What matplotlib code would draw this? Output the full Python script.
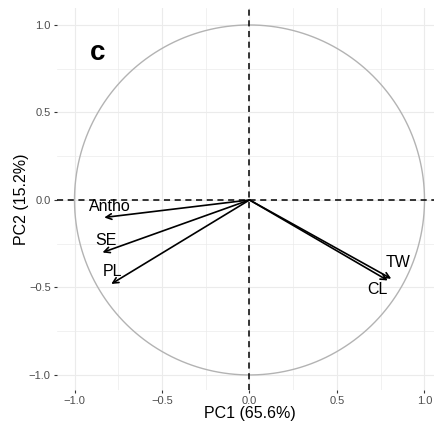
import numpy as np
import matplotlib
matplotlib.use("Agg")
import matplotlib.pyplot as plt

plt.rcParams['font.family'] = ['Liberation Sans', 'DejaVu Sans']

# loadings (PC1, PC2)
variables = ["Antho", "SE", "PL", "TW", "CL"]
pc1 = [-0.83, -0.84, -0.79, 0.81, 0.79]
pc2 = [-0.10, -0.30, -0.48, -0.45, -0.46]
# label positions
lab_x = [-0.80, -0.82, -0.78, 0.85, 0.73]
lab_y = [-0.04, -0.23, -0.41, -0.36, -0.51]
ticks = [-1.0, -0.5, 0.0, 0.5, 1.0]
tick_labels = ["\u22121.0", "\u22120.5", "0.0", "0.5", "1.0"]

W, H = 435, 429
fig = plt.figure(figsize=(W / 100, H / 100), dpi=100)
# panel in pixels: left 57, right 442 (cropped), top 8, bottom 390
ax = fig.add_axes([57 / W, (H - 390) / H, 385 / W, 382 / H])
ax.set_xlim(-1.1, 1.1)
ax.set_ylim(-1.086, 1.097)

# grid
for v in np.arange(-1.0, 1.01, 0.25):
    lw = 0.8 if abs(v * 2 - round(v * 2)) < 1e-9 else 0.5
    ax.axvline(v, color="#ebebeb", lw=lw, zorder=0)
    ax.axhline(v, color="#ebebeb", lw=lw, zorder=0)

# correlation circle
t = np.linspace(0, 2 * np.pi, 400)
ax.plot(np.cos(t), np.sin(t), color="#b3b3b3", lw=1.0, zorder=1)

ax.axhline(0, color="black", lw=1.1, ls=(0, (4, 3)), zorder=2)
ax.axvline(0, color="black", lw=1.1, ls=(0, (4, 3)), zorder=2)

for x, y in zip(pc1, pc2):
    ax.annotate("", xy=(x, y), xytext=(0, 0),
                arrowprops=dict(arrowstyle="->", color="black", lw=1.2,
                                shrinkA=0, shrinkB=0, mutation_scale=10),
                zorder=3)
for name, x, y in zip(variables, lab_x, lab_y):
    ax.text(x, y, name, fontsize=11.5, ha="center", va="center", zorder=4)

ax.text(-0.87, 0.84, "c", fontsize=20, fontweight="bold", ha="center", va="center")

for s in ax.spines.values():
    s.set_visible(False)
ax.set_xticks(ticks)
ax.set_xticklabels(tick_labels)
ax.set_yticks(ticks)
ax.set_yticklabels(tick_labels)
ax.tick_params(length=2.5, width=0.8, color="#333333", labelcolor="#4d4d4d",
               labelsize=8, pad=2)
ax.set_xlabel("PC1 (65.6%)", fontsize=11.5, labelpad=0)
ax.set_ylabel("PC2 (15.2%)", fontsize=11.5, labelpad=0)

fig.savefig("out.png", dpi=100)
